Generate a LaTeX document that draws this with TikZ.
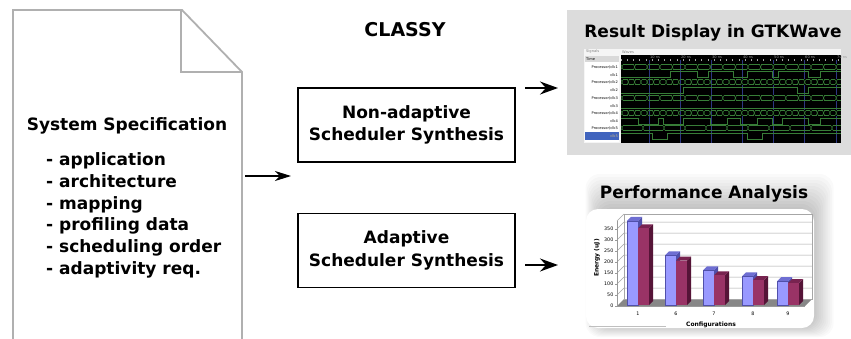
\documentclass[tikz,border=0pt]{standalone}
\usepackage{fontspec}
\setmainfont{DejaVu Sans}
\usetikzlibrary{arrows.meta}
\definecolor{docgray}{RGB}{176,176,176}
\definecolor{shotbg}{RGB}{220,220,220}
\definecolor{wavegreen}{RGB}{55,125,55}
\definecolor{tickblue}{RGB}{45,55,130}
\definecolor{selblue}{RGB}{65,100,190}
\definecolor{barblue}{RGB}{153,153,255}
\definecolor{barbluetop}{RGB}{110,110,210}
\definecolor{barblueside}{RGB}{80,80,170}
\definecolor{barred}{RGB}{153,51,102}
\definecolor{barredtop}{RGB}{120,35,80}
\definecolor{barredside}{RGB}{85,20,55}
\definecolor{floorgray}{RGB}{135,135,135}
\begin{document}
\begin{tikzpicture}[x=1pt,y=-1pt,
  bigtxt/.style={font=\fontsize{17}{22.5}\selectfont\bfseries, inner sep=0pt},
  procbox/.style={draw, line width=1.3pt, minimum width=217pt, minimum height=74pt, align=center, bigtxt},
  arr/.style={line width=1.1pt, -{Stealth[length=16pt,width=10pt,inset=5pt]}},
  arrbig/.style={line width=1.5pt, -{Stealth[length=18pt,width=13pt,inset=6pt]}},
  tinytxt/.style={font=\fontsize{3.6}{4}\selectfont, inner sep=0pt},
  axtxt/.style={font=\fontsize{4.8}{5}\selectfont, inner sep=0pt},
  wave/.style={wavegreen, line width=0.5pt}
]
\useasboundingbox (0,0) rectangle (851,338);
\fill[white] (0,0) rectangle (851,338);

% ---------------- document shape ----------------
\draw[docgray, line width=1.8pt, line join=miter]
  (13,340) -- (13,10) -- (182,10) -- (242,72) -- (242,340);
\draw[docgray, line width=1.8pt] (181,10) -- (181,72) -- (242,72);

\node[bigtxt, anchor=base] (spec) at (127,130) {System Specification};
\foreach \t [count=\i from 0] in {application, architecture, mapping, profiling data, scheduling order, adaptivity req.}{
  \node[bigtxt, anchor=base west] (item\i) at (46,{165.5+21.8*\i}) {- \t};
}

% ---------------- title ----------------
\node[font=\fontsize{19}{22}\selectfont\bfseries, inner sep=0pt, anchor=base] (classy) at (405,36) {CLASSY};

% ---------------- boxes ----------------
\node[procbox] (nonad) at (406.5,125) {Non-adaptive\\Scheduler Synthesis};
\node[procbox] (adapt) at (406.5,250.5) {Adaptive\\Scheduler Synthesis};

\coordinate (docout) at (245,176);
\coordinate (docin) at (291,176);
\draw[arr] (docout) -- (docin);

\coordinate (n1) at (525,88);
\coordinate (n2) at (558,88);
\draw[arrbig] (n1) -- (n2);
\coordinate (m1) at (525,265);
\coordinate (m2) at (558,265);
\draw[arrbig] (m1) -- (m2);

% ---------------- GTKWave screenshot ----------------
\fill[shotbg] (567,10) rectangle (851,155);
\node[bigtxt, anchor=base] (gtktitle) at (713,37) {Result Display in GTKWave};
\fill[gray!8] (584,49) rectangle (841,143);
\fill[white] (585,56) rectangle (619,142);
\fill[gray!30] (585,56) rectangle (619,62);
\fill[selblue] (585,132) rectangle (619,140);
\node[tinytxt, gray, anchor=west] (sighead) at (586,52) {Signals};
\node[tinytxt, gray, anchor=west] (wavhead) at (622,52) {Waves};
\node[tinytxt, anchor=west] (timelbl) at (586,59) {Time};
\foreach \k/\y in {1/67,2/82,3/98,4/113,5/128}{
  \node[tinytxt, anchor=east] (pl\k) at (618,\y) {Processor(clk\k};
  \node[tinytxt, anchor=east] (cl\k) at (618,\y+7.8) {clk\k};
}
\node[tinytxt, white, anchor=east] (clsel) at (618,135.8) {clk5};
% wave area
\fill[black] (621,55) rectangle (841,143);
\foreach \x [count=\i] in {649,680,711,742,773,804,836}{
  \draw[tickblue, line width=0.3pt] (\x,60) -- (\x,143);
  \node[tinytxt, gray!80, anchor=west] (tk\i) at (\x+1,57.5) {\i0 ns};
}
\foreach \n in {0,...,35}{ \draw[gray!70, line width=0.3pt] ({621+6.2*\n},59) -- ({621+6.2*\n},61); }
% bus rows
\foreach \y/\dx in {67/12.6,82/6.3,98/12.6,113/6.3,128/21}{
  \draw[wave] (621,\y-2.3) -- (841,\y-2.3);
  \draw[wave] (621,\y+2.3) -- (841,\y+2.3);
  \foreach \n in {0,...,40}{
    \pgfmathsetmacro{\xx}{622+\n*\dx}
    \ifdim\xx pt<839pt
      \fill[black] (\xx-0.8,\y-2.6) rectangle (\xx+0.8,\y+2.6);
      \draw[wave] (\xx-1,\y-2.3) -- (\xx+1,\y+2.3) (\xx-1,\y+2.3) -- (\xx+1,\y-2.3);
    \fi
  }
}
% clock rows
\draw[wave] (621,77) -- (670,77) -- (670,71) -- (697,71) -- (697,77) -- (708,77) -- (708,71) -- (733,71) -- (733,77) -- (747,77) -- (747,71) -- (772,71) -- (772,77) -- (778,77) -- (778,71) -- (808,71) -- (808,77) -- (820,77) -- (820,71) -- (841,71);
\draw[wave] (621,93) -- (683,93) -- (683,87) -- (797,87) -- (797,93) -- (808,93) -- (808,87) -- (841,87);
\draw[wave] (621,108) -- (841,108);
\draw[wave] (621,118) -- (638,118) -- (638,124) -- (658,124) -- (658,118) -- (663,118) -- (663,124) -- (683,124) -- (683,118) -- (710,118) -- (710,124) -- (727,124) -- (727,118) -- (740,118) -- (740,124) -- (757,124) -- (757,118) -- (772,118) -- (772,124) -- (782,124) -- (782,118) -- (808,118) -- (808,124) -- (820,124) -- (820,118) -- (841,118);
\draw[wave] (621,133) -- (652,133) -- (652,139) -- (667,139) -- (667,133) -- (747,133) -- (747,139) -- (762,139) -- (762,133) -- (841,133);

% ---------------- Performance chart ----------------
\foreach \i in {1,...,12}{
  \fill[black, opacity=0.018, rounded corners=14pt] ({600-1.2*\i},{210-3*\i}) rectangle ({812+1.8*\i},{325+1.0*\i});
}
\fill[white, rounded corners=12pt] (586,209) rectangle (814,328);
\node[bigtxt, anchor=base] (perftitle) at (704,198) {Performance Analysis};
\draw[gray!50, line width=0.4pt] (589,326) -- (666,326);
% floor
\fill[floorgray] (617,306) -- (805,306) -- (812,299) -- (624,299) -- cycle;
% back wall and gridlines
\draw[gray!70, line width=0.5pt] (624,214) rectangle (812,299);
\foreach \v in {50,100,...,350}{
  \draw[gray!70, line width=0.5pt] (617,{306-0.22*\v}) -- (624,{299-0.22*\v}) -- (812,{299-0.22*\v});
}
\draw[gray!70, line width=0.5pt] (617,221) -- (624,214);
\draw[gray!80, line width=0.5pt] (617,221) -- (617,306) -- (805,306);
\foreach \v in {0,50,...,350}{
  \draw[gray!80, line width=0.4pt] (615,{306-0.22*\v}) -- (617,{306-0.22*\v});
  \node[axtxt, anchor=east] (yl\v) at (613.5,{306-0.22*\v}) {\v};
}
% bars
\foreach \xb/\vb/\vr/\lab in {627/382/348/1, 665/226/202/6, 703/157/135/7, 742/130/113/8, 777/108/100/9}{
  \fill[barblueside] (\xb+11,305) -- (\xb+15,301) -- (\xb+15,{301-0.22*\vb}) -- (\xb+11,{305-0.22*\vb}) -- cycle;
  \fill[barbluetop] (\xb,{305-0.22*\vb}) -- (\xb+4,{301-0.22*\vb}) -- (\xb+15,{301-0.22*\vb}) -- (\xb+11,{305-0.22*\vb}) -- cycle;
  \fill[barblue] (\xb,305) rectangle (\xb+11,{305-0.22*\vb});
  \draw[barblueside, line width=0.3pt] (\xb,305) rectangle (\xb+11,{305-0.22*\vb});
  \fill[barredside] (\xb+22,305) -- (\xb+26,301) -- (\xb+26,{301-0.22*\vr}) -- (\xb+22,{305-0.22*\vr}) -- cycle;
  \fill[barredtop] (\xb+11,{305-0.22*\vr}) -- (\xb+15,{301-0.22*\vr}) -- (\xb+26,{301-0.22*\vr}) -- (\xb+22,{305-0.22*\vr}) -- cycle;
  \fill[barred] (\xb+11,305) rectangle (\xb+22,{305-0.22*\vr});
  \node[axtxt, anchor=base] (cat\lab) at (\xb+11,315) {\lab};
}
\node[axtxt, font=\fontsize{6}{7}\selectfont\bfseries, anchor=base] (conf) at (711,326) {Configurations};
\node[axtxt, font=\fontsize{6}{7}\selectfont\bfseries, rotate=90] (energy) at (597,258) {Energy (uJ)};
\end{tikzpicture}
\end{document}
